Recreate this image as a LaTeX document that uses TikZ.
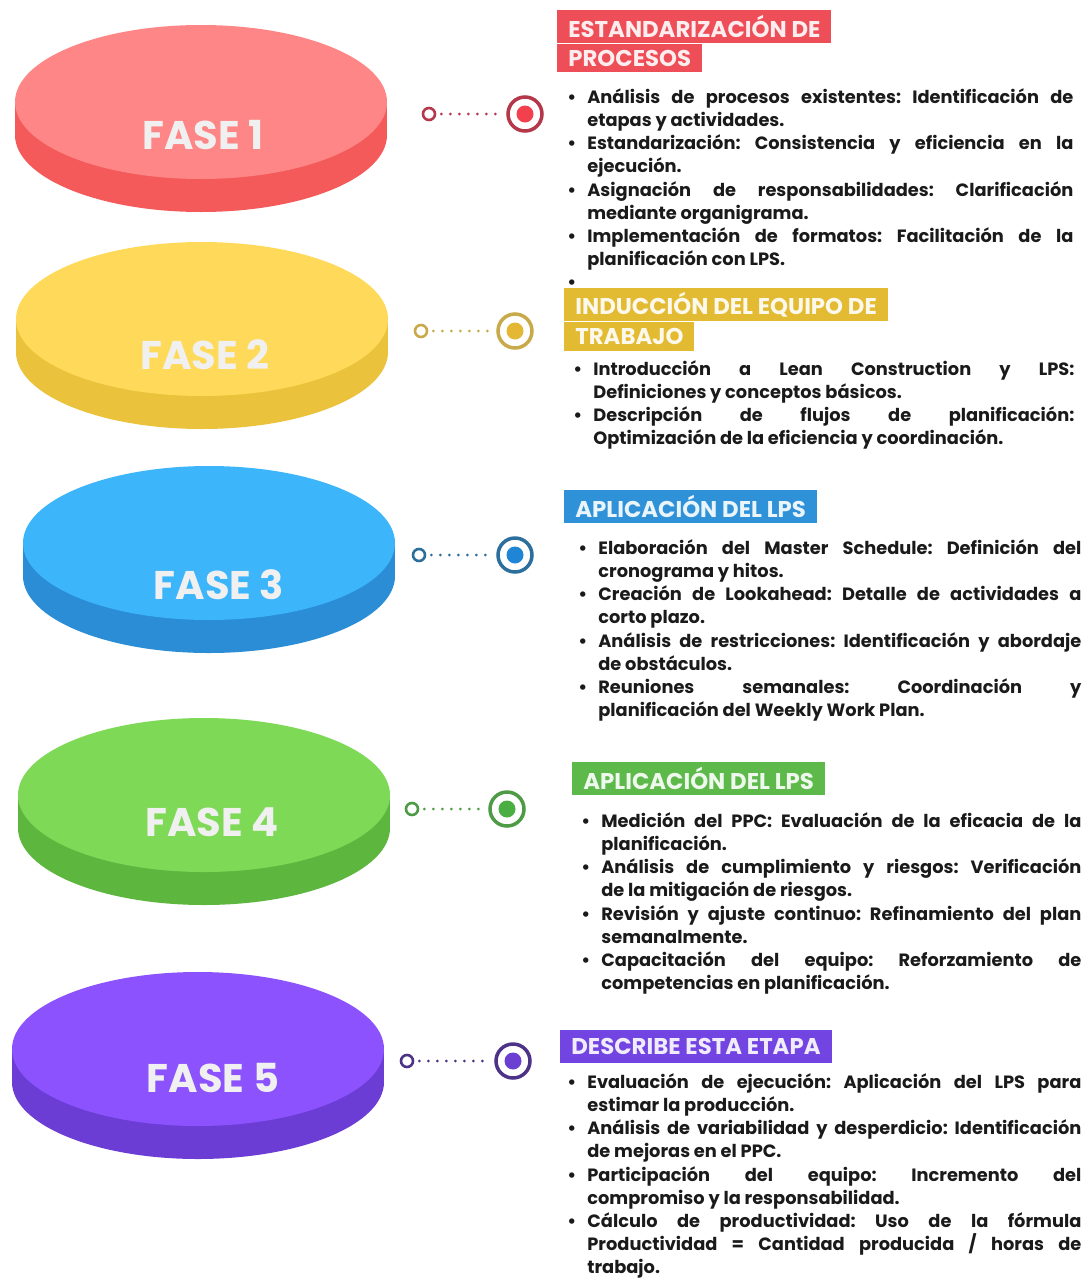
\documentclass[tikz,border=0pt]{standalone}
\usepackage{fontspec}
\setmainfont{Poppins}
\usetikzlibrary{positioning}

% phase colours: top, side, tag, ring, dot
\definecolor{redtop}{HTML}{FF8686}
\definecolor{redside}{HTML}{F45A5A}
\definecolor{redtag}{HTML}{EE4E57}
\definecolor{redring}{HTML}{B4374A}
\definecolor{reddot}{HTML}{F2404E}
\definecolor{yeltop}{HTML}{FFDA5A}
\definecolor{yelside}{HTML}{EBC23C}
\definecolor{yeltag}{HTML}{E3BB33}
\definecolor{yelring}{HTML}{C9AA4A}
\definecolor{yeldot}{HTML}{E4B734}
\definecolor{blutop}{HTML}{3CB5FB}
\definecolor{bluside}{HTML}{2A8DD6}
\definecolor{blutag}{HTML}{2F92D8}
\definecolor{bluring}{HTML}{2C6F9C}
\definecolor{bludot}{HTML}{1F86D6}
\definecolor{grntop}{HTML}{7ED957}
\definecolor{grnside}{HTML}{5DB63E}
\definecolor{grntag}{HTML}{5DB94A}
\definecolor{grnring}{HTML}{4E9B45}
\definecolor{grndot}{HTML}{4AAE43}
\definecolor{purtop}{HTML}{8B52FD}
\definecolor{purside}{HTML}{6B3DD4}
\definecolor{purtag}{HTML}{7244E2}
\definecolor{purring}{HTML}{4D3388}
\definecolor{purdot}{HTML}{6B3FD2}
\definecolor{bodytext}{HTML}{1A1A1A}

\newcommand\bitem{\par\noindent\llap{\textbullet\hspace{11pt}}}
\newcommand\listsetup{\leftskip=22pt\rightskip=0pt\parfillskip=0pt plus 1fil\frenchspacing
  \spaceskip=\fontdimen2\font plus 4\fontdimen2\font minus 0.3\fontdimen2\font
  \tolerance=10000\hyphenpenalty=10000}

\tikzset{every picture/.style={line width=0.75pt}}
\tikzset{
  fase/.style={text=white!94!black, font=\fontsize{40}{40}\selectfont\bfseries},
  tagbox/.style={fill=#1, text=white!90!#1, anchor=north west, inner xsep=11pt, inner ysep=0pt,
    minimum height=33pt, font=\fontsize{22.8}{23}\selectfont\bfseries},
  dotend/.style={circle, draw=#1, line width=2.6pt, fill=white, minimum size=12pt, inner sep=0pt},
  target/.style 2 args={circle, draw=#1, line width=3.5pt, fill=white, minimum size=34pt, inner sep=0pt,
    path picture={\fill[#2] (path picture bounding box.center) circle (8.5pt);}},
  dotline/.style={draw=#1, line width=3pt, line cap=round, dash pattern=on 0pt off 9pt,
    shorten <=5pt, shorten >=4pt},
  bullets/.style={anchor=base west, inner sep=0pt, text=bodytext,
    font=\fontsize{17.8}{23.2}\selectfont\bfseries}
}

\begin{document}
\begin{tikzpicture}[x=1pt,y=1pt,yscale=-1,xscale=1]
	\useasboundingbox (0,0) rectangle (1085,1278);

	%Shape: Disc 1
	\fill [redside] (201,135) ellipse [x radius=186, y radius=77];
	\fill [redside] (15,102) rectangle (387,135);
	\fill [redtop] (201,102) ellipse [x radius=186, y radius=77];
	%Shape: Disc 2
	\fill [yelside] (202,352) ellipse [x radius=186, y radius=77];
	\fill [yelside] (16,319) rectangle (388,352);
	\fill [yeltop] (202,319) ellipse [x radius=186, y radius=77];
	%Shape: Disc 3
	\fill [bluside] (209,576) ellipse [x radius=186, y radius=77];
	\fill [bluside] (23,543) rectangle (395,576);
	\fill [blutop] (209,543) ellipse [x radius=186, y radius=77];
	%Shape: Disc 4
	\fill [grnside] (204,828) ellipse [x radius=186, y radius=77];
	\fill [grnside] (18,795) rectangle (390,828);
	\fill [grntop] (204,795) ellipse [x radius=186, y radius=77];
	%Shape: Disc 5
	\fill [purside] (198,1082) ellipse [x radius=186, y radius=77];
	\fill [purside] (12,1049) rectangle (384,1082);
	\fill [purtop] (198,1049) ellipse [x radius=186, y radius=77];

	% Text Node
	\node [fase] (fase1) at (203,135) {FASE 1};
	\node [fase] (fase2) at (205,355) {FASE 2};
	\node [fase] (fase3) at (219,585) {FASE 3};
	\node [fase] (fase4) at (212,822) {FASE 4};
	\node [fase] (fase5) at (213,1078) {FASE 5};

	%Connectors
	\node [dotend=redring] (pin1) at (429,114) {};
	\node [target={redring}{reddot}] (goal1) at (525,114) {};
	\draw [dotline=redring] (pin1) -- (goal1);
	\node [dotend=yelring] (pin2) at (421,331) {};
	\node [target={yelring}{yeldot}] (goal2) at (515,331) {};
	\draw [dotline=yelring] (pin2) -- (goal2);
	\node [dotend=bluring] (pin3) at (419,555) {};
	\node [target={bluring}{bludot}] (goal3) at (515,555) {};
	\draw [dotline=bluring] (pin3) -- (goal3);
	\node [dotend=grnring] (pin4) at (412,809) {};
	\node [target={grnring}{grndot}] (goal4) at (507,809) {};
	\draw [dotline=grnring] (pin4) -- (goal4);
	\node [dotend=purring] (pin5) at (407,1061) {};
	\node [target={purring}{purdot}] (goal5) at (513,1061) {};
	\draw [dotline=purring] (pin5) -- (goal5);

	%Tags
	\node [tagbox=redtag] (tag1a) at (557,10) {ESTANDARIZACIÓN DE};
	\node [tagbox=redtag, minimum height=28pt, below=0pt of tag1a.south west, anchor=north west] (tag1b) {PROCESOS};
	\node [tagbox=yeltag] (tag2a) at (564,288) {INDUCCIÓN DEL EQUIPO DE};
	\node [tagbox=yeltag, minimum height=29pt, below=0pt of tag2a.south west, anchor=north west] (tag2b) {TRABAJO};
	\node [tagbox=blutag] (tag3) at (564,490) {APLICACIÓN DEL LPS};
	\node [tagbox=grntag] (tag4) at (572,762) {APLICACIÓN DEL LPS};
	\node [tagbox=purtag] (tag5) at (560,1030) {DESCRIBE ESTA ETAPA};

	%Lists
	\node [bullets, text width=508pt] (list1) at (565,80) {\listsetup
		\bitem Análisis de procesos existentes: Identificación de\linebreak etapas y actividades.
		\bitem Estandarización: Consistencia y eficiencia en la\linebreak ejecución.
		\bitem Asignación de responsabilidades: Clarificación\linebreak mediante organigrama.
		\bitem Implementación de formatos: Facilitación de la\linebreak planificación con LPS.
		\bitem\mbox{}\par};
	\node [bullets, text width=503pt] (list2) at (571,352) {\listsetup
		\bitem Introducción a Lean Construction y LPS:\linebreak Definiciones y conceptos básicos.
		\bitem Descripción de flujos de planificación:\linebreak Optimización de la eficiencia y coordinación.\par};
	\node [bullets, text width=505pt] (list3) at (576,531) {\listsetup
		\bitem Elaboración del Master Schedule: Definición del\linebreak cronograma y hitos.
		\bitem Creación de Lookahead: Detalle de actividades a\linebreak corto plazo.
		\bitem Análisis de restricciones: Identificación y abordaje\linebreak de obstáculos.
		\bitem Reuniones semanales: Coordinación y\linebreak planificación del Weekly Work Plan.\par};
	\node [bullets, text width=502pt] (list4) at (579,804) {\listsetup
		\bitem Medición del PPC: Evaluación de la eficacia de la\linebreak planificación.
		\bitem Análisis de cumplimiento y riesgos: Verificación\linebreak de la mitigación de riesgos.
		\bitem Revisión y ajuste continuo: Refinamiento del plan\linebreak semanalmente.
		\bitem Capacitación del equipo: Reforzamiento de\linebreak competencias en planificación.\par};
	\node [bullets, text width=516pt] (list5) at (565,1065) {\listsetup
		\bitem Evaluación de ejecución: Aplicación del LPS para\linebreak estimar la producción.
		\bitem Análisis de variabilidad y desperdicio: Identificación\linebreak de mejoras en el PPC.
		\bitem Participación del equipo: Incremento del\linebreak compromiso y la responsabilidad.
		\bitem Cálculo de productividad: Uso de la fórmula\linebreak Productividad = Cantidad producida / horas de\linebreak trabajo.\par};

\end{tikzpicture}
\end{document}
